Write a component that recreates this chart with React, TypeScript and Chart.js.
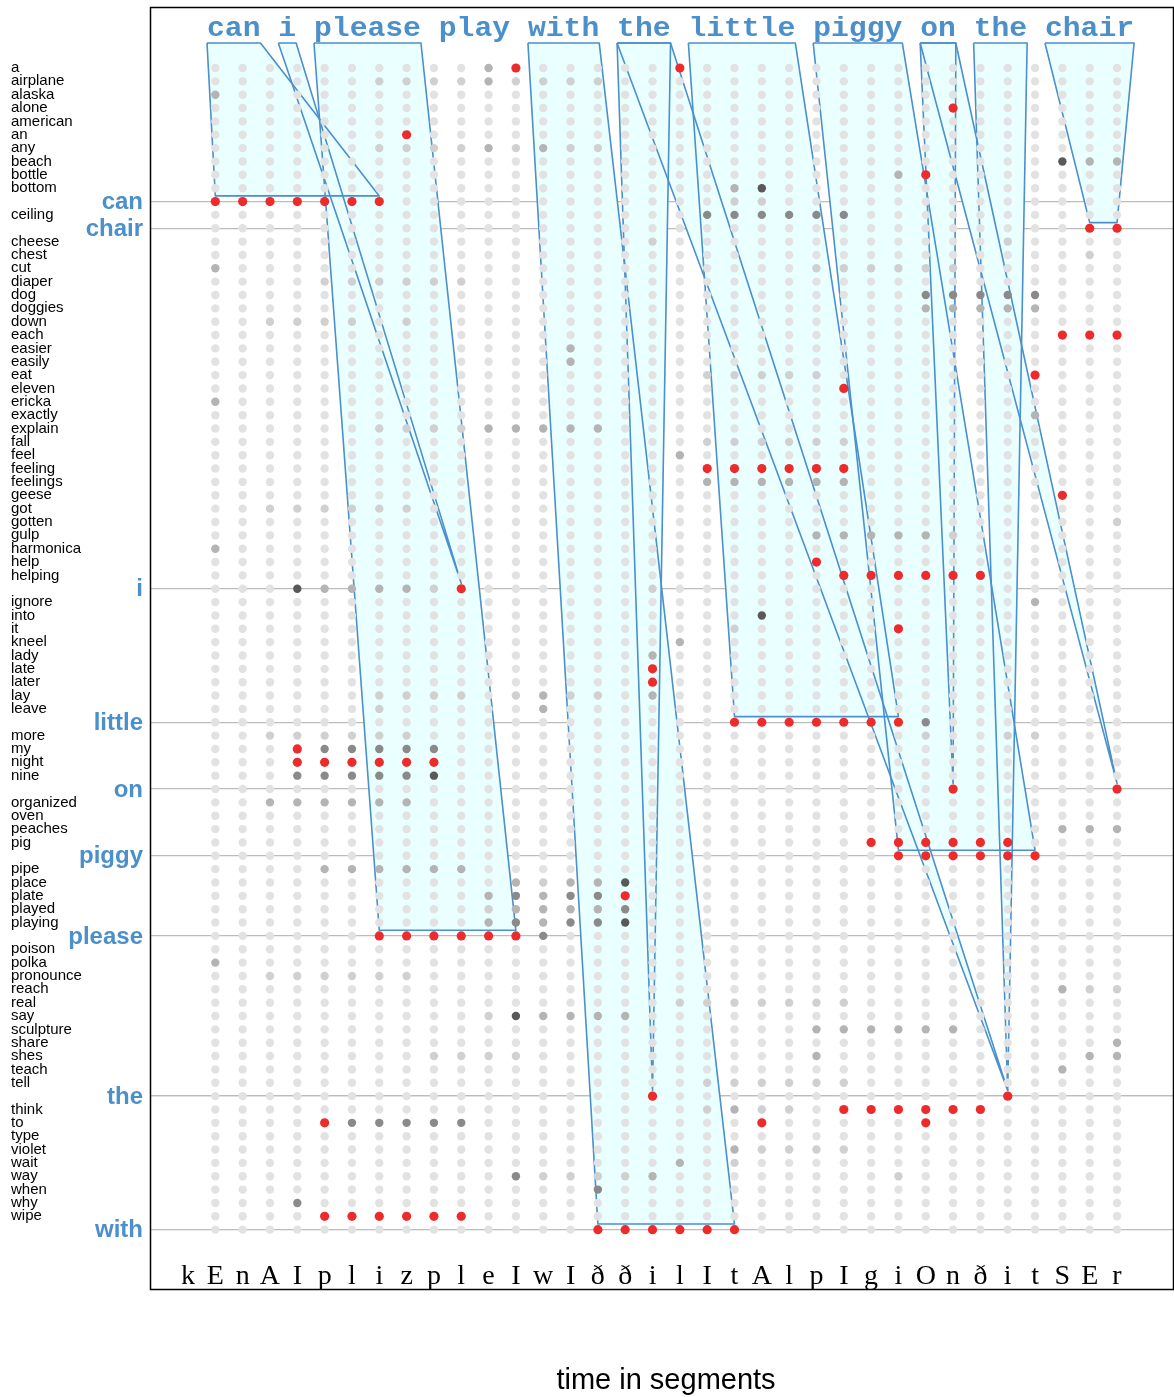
import React, { useEffect, useRef } from 'react';
import { Chart, registerables } from 'chart.js';

Chart.register(...registerables);

// ---------------- DATA ----------------
const SEGMENTS: string[] = ['k','E','n','A','I','p','l','i','z','p','l','e','I','w','I','ð','ð','i','l','I','t','A','l','p','I','g','i','O','n','ð','i','t','S','E','r'];

const VOCAB: string[] = [
  'a','airplane','alaska','alone','american','an','any','beach','bottle','bottom',
  'can','ceiling','chair','cheese','chest','cut','diaper','dog','doggies','down',
  'each','easier','easily','eat','eleven','ericka','exactly','explain','fall','feel',
  'feeling','feelings','geese','got','gotten','gulp','harmonica','help','helping','i',
  'ignore','into','it','kneel','lady','late','later','lay','leave','little',
  'more','my','night','nine','on','organized','oven','peaches','pig','piggy',
  'pipe','place','plate','played','playing','please','poison','polka','pronounce','reach',
  'real','say','sculpture','share','shes','teach','tell','the','think','to',
  'type','violet','wait','way','when','why','wipe','with'
];

const SENTENCE: string[] = ['can','i','please','play','with','the','little','piggy','on','the','chair'];

// per vocabulary row: "col:level" or "from-to:level" (col = segment index - 1)
// levels: 1 light grey, 2 mid grey, 3 dark grey, 4 darkest, r = best path
const CELL_MARKS: string[] = [
  '10:2,11:r,17:r',
  '6-9:1,10:2,11-14:1',
  '0:2',
  '27:r',
  '',
  '7:r',
  '6-9:1,10:2,11:1,12:2,13-14:1',
  '31:4,32-33:2',
  '25:2,26:r',
  '19:2,20:4',
  '0-6:r,19-20:1',
  '18-23:3',
  '32-33:r',
  '16:1,29:1',
  '32:1',
  '0:2,22-27:1',
  '4-9:1',
  '26-30:3',
  '26-30:2',
  '2-5:1,7:1',
  '31-33:r',
  '13:2',
  '13:2',
  '18-22:1,30:r',
  '23:r',
  '0:2',
  '30:2',
  '6-9:1,10-14:2',
  '18-23:1',
  '17:2',
  '18-23:r',
  '18-23:2',
  '31:r',
  '2-7:1',
  '33:1',
  '22-26:2,27:1',
  '0:2',
  '22:r',
  '23-28:r',
  '3:4,4-7:2,8:1,9:r,16:1',
  '30:2',
  '20:4',
  '19:1,25:r',
  '17:2',
  '16:2',
  '16:r',
  '16:r',
  '6-9:1,11:1,12:2,13-14:1,16:2',
  '6:1,12:2',
  '19-25:r,26:3',
  '2-7:1,26:1,29-30:1',
  '3:r,4-8:3',
  '3-8:r',
  '3-7:3,8:4',
  '27:r,33:r',
  '2-7:2',
  '',
  '31-33:2',
  '24-29:r',
  '25-30:r',
  '4-9:2',
  '11:2,12:1,13-14:2,15:4',
  '10:2,11:3,12:2,13-14:3,15:r',
  '10:1,11-14:2,15:3',
  '10:2,11:3,12:2,13-14:3,15:4',
  '6-11:r,12:3',
  '',
  '0:2',
  '2-7:1',
  '31:2,32-33:1',
  '17-23:1',
  '10:1,11:4,12-15:2',
  '22-27:2',
  '33:2',
  '8-11:1,22:2,32-33:2',
  '31:2',
  '18-23:1',
  '16:r,29:r',
  '18:1,19:2,20-21:1,23-28:r',
  '4:r,5-9:3,20:r,26:r',
  '',
  '19:2,20-23:1',
  '17:2,19:1',
  '11:3,12-15:1,16:2,25:1',
  '14:3',
  '3:3',
  '4-9:r',
  '14-19:r'
];

// word-to-path matches: sentence word index, first and last segment index
const MATCH_WORD: number[] = [0, 1, 2, 4, 5, 5, 6, 7, 8, 8, 9, 10];
const MATCH_FROM: number[] = [1, 10, 7, 15, 17, 30, 20, 26, 28, 34, 30, 33];
const MATCH_TO: number[] = [7, 10, 12, 20, 17, 30, 26, 31, 28, 34, 30, 34];

// ---------------- STYLE / LAYOUT ----------------
const W = 1174;
const H = 1397;
const X_MIN = -1.391;
const X_MAX = 36.085;
const Y_MIN = -3.569;
const Y_MAX = 92.52;
const SENT_X0 = 0.695;
const CHAR_W = 0.6525;
const TOP_Y = -0.87;
const BOTTOM_OFFSET = 0.42;
const BLUE = '#4b8fcb';
const FILL = 'rgb(234,255,255)';
const LEVEL_COLOR: Record<string, string> = {
  '.': '#e2e2e2', '1': '#d0d0d0', '2': '#b4b4b4', '3': '#8a8a8a', '4': '#595959', 'r': '#ee2b2b'
};

function parseMarks(spec: string): Record<number, string> {
  const out: Record<number, string> = {};
  if (!spec) return out;
  spec.split(',').forEach((part) => {
    const [range, lvl] = part.split(':');
    const [a, b] = range.split('-').map(Number);
    const end = b === undefined || isNaN(b) ? a : b;
    for (let c = a; c <= end; c++) out[c] = lvl;
  });
  return out;
}

export default function App() {
  const ref = useRef<HTMLCanvasElement | null>(null);

  useEffect(() => {
    document.body.style.margin = '0';
    const canvas = ref.current;
    if (!canvas) return;

    // dots
    const dotData: { x: number; y: number }[] = [];
    const dotColors: string[] = [];
    const dotRadius: number[] = [];
    const nCols = SEGMENTS.length - 1;
    VOCAB.forEach((_, ri) => {
      const marks = parseMarks(CELL_MARKS[ri]);
      for (let c = 0; c < nCols; c++) {
        const lvl = marks[c] || '.';
        dotData.push({ x: c + 1, y: ri + 1 });
        dotColors.push(LEVEL_COLOR[lvl]);
        dotRadius.push(lvl === 'r' ? 4.6 : 4.2);
      }
    });

    // polygons
    const starts: number[] = [];
    let pos = 0;
    SENTENCE.forEach((w) => { starts.push(pos); pos += w.length + 1; });
    const polyDatasets: any[] = MATCH_WORD.map((wi, m) => {
      const word = SENTENCE[wi];
      const xl = SENT_X0 + CHAR_W * starts[wi];
      const xr = xl + CHAR_W * word.length;
      const row = VOCAB.indexOf(word) + 1;
      const yb = row - BOTTOM_OFFSET;
      return {
        type: 'line',
        data: [
          { x: xl, y: TOP_Y }, { x: xr, y: TOP_Y },
          { x: MATCH_TO[m], y: yb }, { x: MATCH_FROM[m], y: yb },
          { x: xl, y: TOP_Y }
        ],
        showLine: true,
        fill: 'shape',
        backgroundColor: FILL,
        borderColor: BLUE,
        borderWidth: 1.6,
        borderJoinStyle: 'round',
        pointRadius: 0,
        pointHitRadius: 0,
        tension: 0,
        order: 2
      };
    });

    const blueRows = SENTENCE.map((w) => VOCAB.indexOf(w) + 1).filter((r) => r > 0);
    const blueSet = new Set(SENTENCE);

    const decor = {
      id: 'decor',
      afterDraw(chart: any) {
        const ctx = chart.ctx as CanvasRenderingContext2D;
        const xs = chart.scales.x;
        const ys = chart.scales.y;
        const area = chart.chartArea;
        ctx.save();
        // frame
        ctx.strokeStyle = '#000';
        ctx.lineWidth = 1.5;
        ctx.strokeRect(area.left + 0.5, area.top + 0.5, area.right - area.left - 1, area.bottom - area.top - 1);

        // y labels
        ctx.textBaseline = 'middle';
        VOCAB.forEach((w, i) => {
          const y = ys.getPixelForValue(i + 1);
          if (blueSet.has(w)) {
            ctx.font = 'bold 24px "Liberation Sans", Arial, sans-serif';
            ctx.fillStyle = BLUE;
            ctx.textAlign = 'right';
            ctx.fillText(w, 143, y + 1);
          } else {
            ctx.font = '15px "Liberation Sans", Arial, sans-serif';
            ctx.fillStyle = '#000';
            ctx.textAlign = 'left';
            ctx.fillText(w, 11, y);
          }
        });

        // x segment labels
        ctx.font = '28px "Liberation Serif", "Times New Roman", serif';
        ctx.fillStyle = '#000';
        ctx.textAlign = 'center';
        ctx.textBaseline = 'alphabetic';
        SEGMENTS.forEach((s, i) => {
          ctx.fillText(s, xs.getPixelForValue(i), area.bottom - 6);
        });

        // x title
        ctx.font = '29px "Liberation Sans", Arial, sans-serif';
        ctx.textBaseline = 'middle';
        ctx.fillText('time in segments', 666, 1381);

        // sentence
        const text = SENTENCE.join(' ');
        ctx.font = 'bold 28px "Liberation Mono", "Courier New", monospace';
        ctx.fillStyle = BLUE;
        ctx.textAlign = 'center';
        ctx.textBaseline = 'alphabetic';
        const charPx = xs.getPixelForValue(SENT_X0 + CHAR_W) - xs.getPixelForValue(SENT_X0);
        const natural = ctx.measureText('M').width;
        const sx = charPx / natural;
        for (let i = 0; i < text.length; i++) {
          if (text[i] === ' ') continue;
          const cx = xs.getPixelForValue(SENT_X0 + CHAR_W * (i + 0.5));
          ctx.save();
          ctx.translate(cx, 36);
          ctx.scale(sx, 1);
          ctx.fillText(text[i], 0, 0);
          ctx.restore();
        }
        ctx.restore();
      }
    };

    const chart = new Chart(canvas, {
      type: 'scatter',
      data: {
        datasets: [
          ...polyDatasets,
          {
            type: 'scatter',
            data: dotData,
            pointBackgroundColor: dotColors,
            pointBorderWidth: 0,
            pointRadius: dotRadius,
            pointHoverRadius: dotRadius,
            order: 1
          }
        ]
      } as any,
      options: {
        responsive: false,
        animation: false,
        devicePixelRatio: 1,
        layout: { autoPadding: false, padding: { left: 150, top: 7, right: 0, bottom: 107 } },
        plugins: {
          legend: { display: false },
          tooltip: { enabled: false },
          filler: { drawTime: 'beforeDatasetsDraw' }
        },
        scales: {
          x: { type: 'linear', display: false, min: X_MIN, max: X_MAX },
          y: {
            type: 'linear',
            reverse: true,
            min: Y_MIN,
            max: Y_MAX,
            display: true,
            afterFit: (s: any) => { s.width = 0; },
            afterBuildTicks: (s: any) => { s.ticks = blueRows.map((v) => ({ value: v })); },
            ticks: { display: false },
            grid: { drawTicks: false, color: '#bcbcbc', lineWidth: 1.3 },
            border: { display: false }
          }
        }
      } as any,
      plugins: [decor]
    });

    return () => chart.destroy();
  }, []);

  return <canvas ref={ref} width={W} height={H} style={{ display: 'block', width: W, height: H }} />;
}
